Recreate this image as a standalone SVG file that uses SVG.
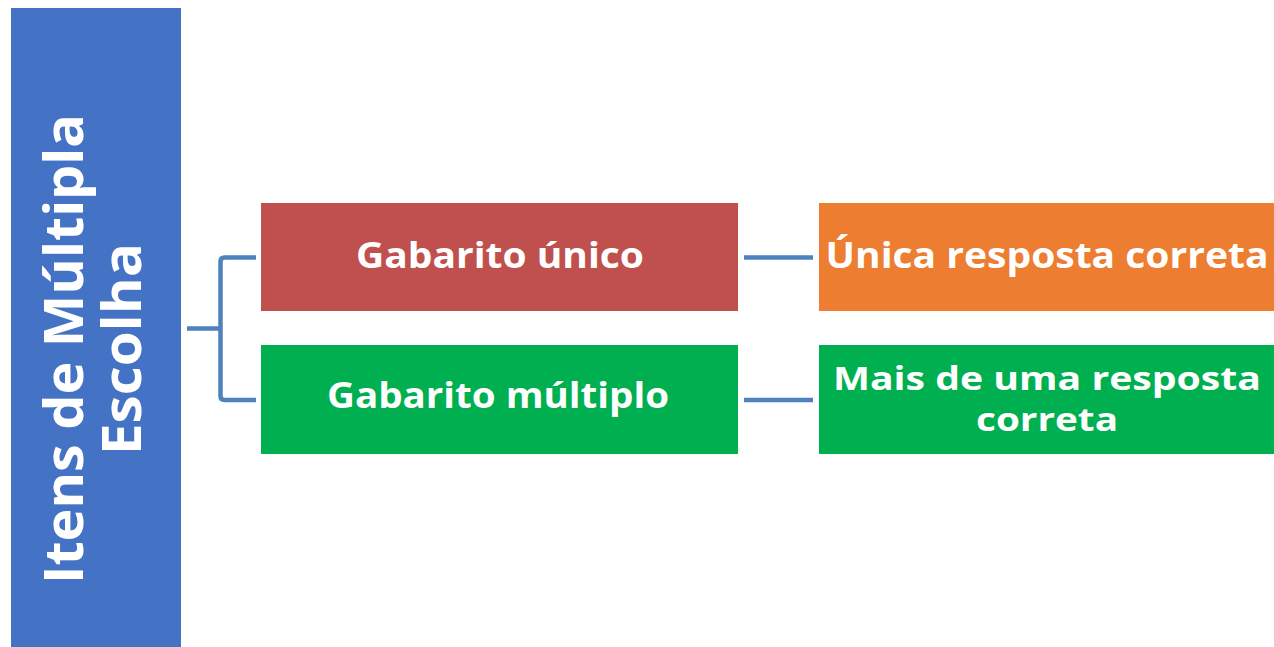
<svg xmlns="http://www.w3.org/2000/svg" width="1274" height="647" viewBox="0 0 1274 647">
  <style>
    .lbl { font-family: "Open Sans", "Liberation Sans", sans-serif; font-weight: 700; fill: #FFFFFF; text-anchor: middle; }
    .box { font-size: 36px; }
    .box2 { font-size: 33px; }
    .conn { fill: none; stroke: #4F81BD; stroke-width: 4.5; stroke-linejoin: round; }
  </style>
  <rect x="0" y="0" width="1274" height="647" fill="#FFFFFF"/>
  <g id="root">
    <rect x="11" y="8" width="170" height="639" fill="#4472C4"/>
    <g transform="translate(83,349) rotate(-90)">
      <text class="lbl" x="0" y="0" font-size="53" textLength="470" lengthAdjust="spacingAndGlyphs">Itens de Múltipla</text>
      <text class="lbl" x="0" y="58" font-size="53" textLength="212" lengthAdjust="spacingAndGlyphs">Escolha</text>
    </g>
  </g>
  <g id="connectors">
    <path class="conn" d="M187,328.5 H220.5"/>
    <path class="conn" d="M256,257.5 H224.5 Q220.5,257.5 220.5,261.5 V396 Q220.5,400 224.5,400 H256"/>
    <path class="conn" d="M744,257.5 H813"/>
    <path class="conn" d="M744,400 H813"/>
  </g>
  <g id="gabarito-unico">
    <rect x="261" y="203" width="477" height="108" fill="#C0504D"/>
    <text class="lbl box" x="500" y="268" textLength="288" lengthAdjust="spacingAndGlyphs">Gabarito único</text>
  </g>
  <g id="gabarito-multiplo">
    <rect x="261" y="345" width="477" height="109" fill="#00B050"/>
    <text class="lbl box" x="498" y="408" textLength="342" lengthAdjust="spacingAndGlyphs">Gabarito múltiplo</text>
  </g>
  <g id="unica-resposta">
    <rect x="819" y="203" width="455" height="108" fill="#ED7D31"/>
    <text class="lbl box" x="1047" y="268" textLength="443" lengthAdjust="spacingAndGlyphs">Única resposta correta</text>
  </g>
  <g id="mais-de-uma">
    <rect x="819" y="345" width="455" height="109" fill="#00B050"/>
    <text class="lbl box2" x="1047" y="390" textLength="428" lengthAdjust="spacingAndGlyphs">Mais de uma resposta</text>
    <text class="lbl box2" x="1047" y="431" textLength="142" lengthAdjust="spacingAndGlyphs">correta</text>
  </g>
</svg>
